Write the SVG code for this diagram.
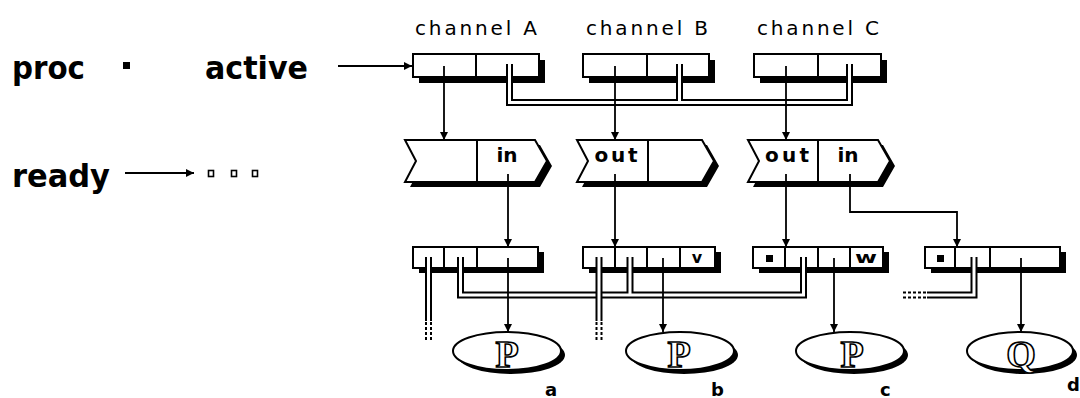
<svg xmlns="http://www.w3.org/2000/svg" width="1080" height="398" viewBox="0 0 1080 398">
<defs>
<marker id="ah" markerUnits="userSpaceOnUse" markerWidth="10" markerHeight="10" refX="8" refY="4" orient="auto">
<path d="M0,0 L8,4 L0,8 Z" fill="#000"/>
</marker>
<style>
.big{font-family:"DejaVu Sans","Liberation Sans",sans-serif;font-weight:bold;font-size:32px;fill:#000}
.lbl{font-family:"DejaVu Sans","Liberation Sans",sans-serif;font-weight:bold;font-size:18px;fill:#000}
.ch{font-family:"DejaVu Sans","Liberation Sans",sans-serif;font-size:20px;fill:#000}
.cell{font-family:"DejaVu Sans","Liberation Sans",sans-serif;font-weight:bold;font-size:20px;fill:#000}
.small{font-family:"DejaVu Sans","Liberation Sans",sans-serif;font-weight:bold;font-size:16px;fill:#000}
.proc{font-family:"Liberation Serif","DejaVu Serif",serif;font-weight:bold;font-size:38px;fill:#fff;stroke:#000;stroke-width:1.6}
.shadow{fill:#000;stroke:none}
.box{fill:#fff;stroke:#000;stroke-width:2}
.div{stroke:#000;stroke-width:2;fill:none}
.ln{stroke:#000;stroke-width:1.8;fill:none}
.arr{stroke:#000;stroke-width:1.8;fill:none;marker-end:url(#ah)}
.tb{stroke:#000;stroke-width:7;fill:none}
.tw{stroke:#fff;stroke-width:3;fill:none}
.dash{stroke:#000;stroke-width:2;stroke-dasharray:3 2;fill:none}
</style>
</defs>

<g id="left-labels">
<text class="big" x="12" y="79" textLength="73" lengthAdjust="spacingAndGlyphs">proc</text>
<rect x="123" y="62" width="7" height="7" fill="#000"/>
<text class="big" x="205" y="79" textLength="103" lengthAdjust="spacingAndGlyphs">active</text>
<text class="big" x="12" y="187" textLength="98" lengthAdjust="spacingAndGlyphs">ready</text>
<rect x="208.5" y="170.5" width="5" height="6" fill="none" stroke="#000" stroke-width="1.6"/>
<rect x="231.5" y="170.5" width="5" height="6" fill="none" stroke="#000" stroke-width="1.6"/>
<rect x="252.5" y="170.5" width="5" height="6" fill="none" stroke="#000" stroke-width="1.6"/>
</g>

<g id="channel-A">
<text class="ch" x="415" y="35" textLength="122" lengthAdjust="spacing">channel A</text>
<rect class="shadow" x="419" y="60" width="126" height="23"/>
<rect class="box" x="413" y="54" width="126" height="23"/>
<line class="div" x1="476" y1="54" x2="476" y2="77"/>
</g>
<g id="channel-B">
<text class="ch" x="586" y="35" textLength="122" lengthAdjust="spacing">channel B</text>
<rect class="shadow" x="589" y="60" width="126" height="23"/>
<rect class="box" x="583" y="54" width="126" height="23"/>
<line class="div" x1="647" y1="54" x2="647" y2="77"/>
</g>
<g id="channel-C">
<text class="ch" x="757" y="35" textLength="122" lengthAdjust="spacing">channel C</text>
<rect class="shadow" x="760" y="60" width="127" height="23"/>
<rect class="box" x="754" y="54" width="127" height="23"/>
<line class="div" x1="818" y1="54" x2="818" y2="77"/>
</g>

<g id="ready-1">
<path class="shadow" d="M410,145 H540 L552,166 L540,187 H410 L421,166 Z"/>
<path class="box" d="M405,140 H535 L547,161 L535,182 H405 L416,161 Z"/>
<line class="div" x1="477" y1="140" x2="477" y2="182"/>
<text class="cell" x="507" y="162" text-anchor="middle">in</text>
</g>
<g id="ready-2">
<path class="shadow" d="M582,145 H707 L719,166 L707,187 H582 L593,166 Z"/>
<path class="box" d="M577,140 H702 L714,161 L702,182 H577 L588,161 Z"/>
<line class="div" x1="648" y1="140" x2="648" y2="182"/>
<text class="cell" x="616" y="162" text-anchor="middle" textLength="43" lengthAdjust="spacing">out</text>
</g>
<g id="ready-3">
<path class="shadow" d="M753,145 H883 L895,166 L883,187 H753 L764,166 Z"/>
<path class="box" d="M748,140 H878 L890,161 L878,182 H748 L759,161 Z"/>
<line class="div" x1="818" y1="140" x2="818" y2="182"/>
<text class="cell" x="787" y="162" text-anchor="middle" textLength="44" lengthAdjust="spacing">out</text>
<text class="cell" x="848" y="162" text-anchor="middle">in</text>
</g>

<g id="proc-a">
<rect class="shadow" x="419" y="252" width="125" height="21"/>
<rect class="box" x="413" y="247" width="125" height="21"/>
<line class="div" x1="444" y1="247" x2="444" y2="268"/>
<line class="div" x1="477" y1="247" x2="477" y2="268"/>
</g>
<g id="proc-b">
<rect class="shadow" x="589" y="252" width="132" height="21"/>
<rect class="box" x="583" y="247" width="132" height="21"/>
<line class="div" x1="615" y1="247" x2="615" y2="268"/>
<line class="div" x1="647" y1="247" x2="647" y2="268"/>
<line class="div" x1="680" y1="247" x2="680" y2="268"/>
<text class="small" x="697" y="263" text-anchor="middle">v</text>
</g>
<g id="proc-c">
<rect class="shadow" x="759" y="252" width="130" height="21"/>
<rect class="box" x="753" y="247" width="130" height="21"/>
<line class="div" x1="785" y1="247" x2="785" y2="268"/>
<line class="div" x1="818" y1="247" x2="818" y2="268"/>
<line class="div" x1="850" y1="247" x2="850" y2="268"/>
<rect x="766" y="255" width="7" height="7" fill="#000"/>
<text class="small" x="866" y="263" text-anchor="middle" textLength="22" lengthAdjust="spacingAndGlyphs">w</text>
</g>
<g id="proc-d">
<rect class="shadow" x="931" y="252" width="135" height="21"/>
<rect class="box" x="925" y="247" width="135" height="21"/>
<line class="div" x1="955" y1="247" x2="955" y2="268"/>
<line class="div" x1="990" y1="247" x2="990" y2="268"/>
<rect x="937" y="255" width="7" height="7" fill="#000"/>
</g>

<g id="process-a">
<ellipse class="shadow" cx="511" cy="355" rx="54" ry="19"/>
<ellipse class="box" cx="507" cy="351" rx="54" ry="19"/>
<text class="proc" x="507" y="367" text-anchor="middle">P</text>
<text class="lbl" x="545" y="396">a</text>
</g>
<g id="process-b">
<ellipse class="shadow" cx="684" cy="355" rx="54" ry="19"/>
<ellipse class="box" cx="680" cy="351" rx="54" ry="19"/>
<text class="proc" x="679" y="367" text-anchor="middle">P</text>
<text class="lbl" x="711" y="396">b</text>
</g>
<g id="process-c">
<ellipse class="shadow" cx="854" cy="355" rx="54" ry="19"/>
<ellipse class="box" cx="850" cy="351" rx="54" ry="19"/>
<text class="proc" x="852" y="367" text-anchor="middle">P</text>
<text class="lbl" x="880" y="396">c</text>
</g>
<g id="process-d">
<ellipse class="shadow" cx="1024" cy="355" rx="53" ry="19"/>
<ellipse class="box" cx="1020" cy="351" rx="53" ry="19"/>
<text class="proc" x="1021" y="367" text-anchor="middle">Q</text>
<text class="lbl" x="1067" y="391">d</text>
</g>

<g id="connectors">
<line class="arr" x1="338" y1="66" x2="412" y2="66"/>
<line class="arr" x1="125" y1="173" x2="194" y2="173"/>
<path class="tb" d="M509.5,64 V102.5 H849.5 V64 M679.5,102.5 V64"/>
<path class="tw" d="M509.5,64 V102.5 H849.5 V64 M679.5,102.5 V64"/>
<line class="arr" x1="444" y1="66" x2="444" y2="140"/>
<line class="arr" x1="615" y1="66" x2="615" y2="140"/>
<line class="arr" x1="786" y1="66" x2="786" y2="140"/>
<line class="arr" x1="508" y1="174" x2="508" y2="247"/>
<line class="arr" x1="615" y1="174" x2="615" y2="247"/>
<line class="arr" x1="786" y1="174" x2="786" y2="247"/>
<path class="arr" d="M850,174 V212 H957 V247"/>
<path class="tb" d="M460.5,257 V295 H803.5 V257 M630,295 V257"/>
<path class="tw" d="M460.5,257 V295 H803.5 V257 M630,295 V257"/>
<path class="tb" d="M428.5,257 V321"/>
<path class="tw" d="M428.5,257 V321"/>
<path class="tb" d="M599,257 V321"/>
<path class="tw" d="M599,257 V321"/>
<path class="tb" d="M974,257 V295 H927"/>
<path class="tw" d="M974,257 V295 H927"/>
<line class="dash" x1="426" y1="322" x2="426" y2="341"/>
<line class="dash" x1="431" y1="322" x2="431" y2="341"/>
<line class="dash" x1="596.5" y1="322" x2="596.5" y2="341"/>
<line class="dash" x1="601.5" y1="322" x2="601.5" y2="341"/>
<line class="dash" x1="926" y1="292.5" x2="903" y2="292.5"/>
<line class="dash" x1="926" y1="297.5" x2="903" y2="297.5"/>
<line class="arr" x1="508" y1="258" x2="508" y2="332"/>
<line class="arr" x1="663" y1="258" x2="663" y2="332"/>
<line class="arr" x1="834" y1="258" x2="834" y2="332"/>
<line class="arr" x1="1021" y1="258" x2="1021" y2="332"/>
</g>
</svg>
